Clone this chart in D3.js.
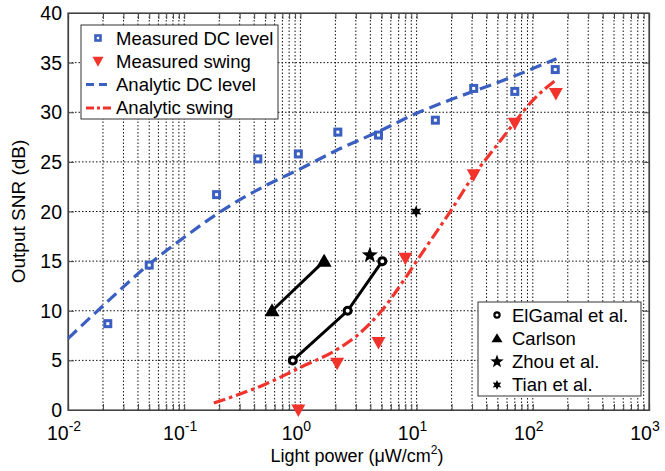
<!DOCTYPE html>
<html>
<head>
<meta charset="utf-8">
<script src="https://cdn.jsdelivr.net/npm/d3@7"></script>
<style>
  body { margin: 0; background: #fff; }
  svg { font-family: "Liberation Sans", Arial, sans-serif; }
</style>
</head>
<body>
<div id="chart"></div>
<script>
// measured data
var dcX = [0.022, 0.05, 0.19, 0.43, 0.96, 2.1, 4.7, 14.5, 31, 70, 156];
var dcY = [8.7, 14.6, 21.7, 25.3, 25.8, 28.0, 27.7, 29.2, 32.4, 32.1, 34.3];
var swX = [0.96, 2.07, 4.7, 8.0, 31, 70, 158];
var swY = [0, 4.7, 6.8, 15.3, 23.7, 28.9, 31.9];

// analytic curves
var adcX = [0.01, 0.02, 0.05, 0.1, 0.2, 0.5, 1, 2, 5, 10, 20, 50, 100, 160];
var adcY = [7.2, 10.5, 14.7, 17.4, 19.9, 22.6, 24.3, 26.1, 28.2, 29.9, 31.3, 33.0, 34.4, 35.4];
var aswX = [0.18, 0.3, 0.5, 1, 2, 3, 5, 8, 10, 20, 30, 50, 70, 100, 160];
var aswY = [0.7, 1.6, 2.6, 4.3, 6.0, 7.4, 10.0, 13.3, 15.0, 20.2, 23.4, 26.8, 29.0, 31.2, 33.3];

// prior work
var elgamalX = [0.86, 2.55, 5.07];
var elgamalY = [5, 10, 15];
var carlsonX = [0.57, 1.6];
var carlsonY = [10, 15];
var zhouX = [3.96];
var zhouY = [15.6];
var tianX = [9.9];
var tianY = [20];

var yTicks = [0, 5, 10, 15, 20, 25, 30, 35, 40];
var xMajor = [-2, -1, 0, 1, 2, 3];

var W = 665, H = 471;
var pL = 68, pR = 649, pT = 13, pB = 410;
var blue = "#3b5fc0", red = "#f2332b";

var svg = d3.select("#chart").append("svg").attr("width", W).attr("height", H);

var x = d3.scaleLog().domain([1e-2, 1e3]).range([pL, pR]);
var y = d3.scaleLinear().domain([0, 40]).range([pB, pT]);

var zip = function (xs, ys) { return xs.map(function (v, i) { return [v, ys[i]]; }); };

// grid
var xGrid = x.ticks().filter(function (t) { return t > 1e-2 && t < 1e3; });
svg.append("g").selectAll("line").data(xGrid).enter().append("line")
    .attr("x1", function (d) { return x(d); }).attr("x2", function (d) { return x(d); })
    .attr("y1", pT).attr("y2", pB)
    .attr("stroke", "#111").attr("stroke-width", 1).attr("stroke-dasharray", "1.5,2");
svg.append("g").selectAll("line").data(yTicks.slice(1, -1)).enter().append("line")
    .attr("x1", pL).attr("x2", pR)
    .attr("y1", function (d) { return y(d); }).attr("y2", function (d) { return y(d); })
    .attr("stroke", "#111").attr("stroke-width", 1).attr("stroke-dasharray", "1.5,2");

// axes (ticks inside, all four sides)
var xb = d3.axisBottom(x).tickValues(x.ticks()).tickSize(-6).tickFormat("");
var xt = d3.axisTop(x).tickValues(x.ticks()).tickSize(-6).tickFormat("");
var yl = d3.axisLeft(y).tickValues(yTicks).tickSize(-6).tickFormat("");
var yr = d3.axisRight(y).tickValues(yTicks).tickSize(-6).tickFormat("");
svg.append("g").attr("transform", "translate(0," + pB + ")").call(xb);
svg.append("g").attr("transform", "translate(0," + pT + ")").call(xt);
svg.append("g").attr("transform", "translate(" + pL + ",0)").call(yl);
svg.append("g").attr("transform", "translate(" + pR + ",0)").call(yr);
svg.selectAll(".domain").attr("stroke", "#444").attr("stroke-width", 1.2);
svg.selectAll(".tick line").attr("stroke", "#444");
svg.append("rect").attr("x", pL).attr("y", pT).attr("width", pR - pL).attr("height", pB - pT)
    .attr("fill", "none").attr("stroke", "#444").attr("stroke-width", 1.2);

// tick labels
svg.append("g").selectAll("text").data(yTicks).enter().append("text")
    .attr("x", pL - 6).attr("y", function (d) { return y(d) + 7; })
    .attr("text-anchor", "end").attr("font-size", 19.5).text(function (d) { return d; });
var xl = svg.append("g").selectAll("text").data(xMajor).enter().append("text")
    .attr("x", function (d) { return x(Math.pow(10, d)) - 4; }).attr("y", 440)
    .attr("text-anchor", "middle").attr("font-size", 19.5);
xl.append("tspan").text("10");
xl.append("tspan").attr("dy", -9).attr("font-size", 14).text(function (d) { return d; });

svg.append("text").attr("x", 357).attr("y", 462).attr("text-anchor", "middle").attr("font-size", 18)
    .html("Light power (μW/cm<tspan dy='-8' font-size='12'>2</tspan><tspan dy='8'>)</tspan>");
svg.append("text").attr("transform", "translate(25," + ((pT + pB) / 2) + ") rotate(-90)")
    .attr("text-anchor", "middle").attr("font-size", 19).text("Output SNR (dB)");

var line = d3.line().x(function (d) { return x(d[0]); }).y(function (d) { return y(d[1]); })
    .curve(d3.curveMonotoneX);
var plain = d3.line().x(function (d) { return x(d[0]); }).y(function (d) { return y(d[1]); });

// analytic curves
svg.append("path").datum(zip(adcX, adcY)).attr("d", line).attr("fill", "none")
    .attr("stroke", blue).attr("stroke-width", 3.2).attr("stroke-dasharray", "12,6");
svg.append("path").datum(zip(aswX, aswY)).attr("d", line).attr("fill", "none")
    .attr("stroke", red).attr("stroke-width", 3.2).attr("stroke-dasharray", "12,4,3.5,4");

// black lines
svg.append("path").datum(zip(elgamalX, elgamalY)).attr("d", plain).attr("fill", "none")
    .attr("stroke", "#000").attr("stroke-width", 3);
svg.append("path").datum(zip(carlsonX, carlsonY)).attr("d", plain).attr("fill", "none")
    .attr("stroke", "#000").attr("stroke-width", 3);

// markers
var starPath = function (n, ro, ri) {
    var p = [];
    for (var i = 0; i < 2 * n; i++) {
        var r = i % 2 ? ri : ro, a = Math.PI * i / n - Math.PI / 2;
        p.push([r * Math.cos(a), r * Math.sin(a)]);
    }
    return "M" + p.join("L") + "Z";
};
var squareM = function (g) {
    g.append("rect").attr("x", -3).attr("y", -3).attr("width", 6).attr("height", 6)
        .attr("fill", "#fff").attr("stroke", blue).attr("stroke-width", 3);
};
var triDown = function (g) {
    g.append("path").attr("d", "M-7,-5.5L7,-5.5L0,7Z").attr("fill", red);
};
var circleM = function (g) {
    g.append("circle").attr("r", 3.5).attr("fill", "#fff").attr("stroke", "#000").attr("stroke-width", 3);
};
var triUp = function (g) {
    g.append("path").attr("d", "M0,-7.5L7.5,5.5L-7.5,5.5Z").attr("fill", "#000");
};
var star5 = function (g) {
    g.append("path").attr("d", starPath(5, 8.5, 3.5)).attr("fill", "#000");
};
var star6 = function (g) {
    g.append("path").attr("d", starPath(6, 6, 3)).attr("fill", "#000");
};
var drawPts = function (xs, ys, marker) {
    zip(xs, ys).forEach(function (d) {
        var g = svg.append("g").attr("transform", "translate(" + x(d[0]) + "," + y(d[1]) + ")");
        marker(g);
    });
};
drawPts(dcX, dcY, squareM);
drawPts(swX, swY, triDown);
drawPts(elgamalX, elgamalY, circleM);
drawPts(carlsonX, carlsonY, triUp);
drawPts(zhouX, zhouY, star5);
drawPts(tianX, tianY, star6);

// legend 1
var lg1 = svg.append("g");
lg1.append("rect").attr("x", 81).attr("y", 25).attr("width", 197).attr("height", 94)
    .attr("fill", "#fff").attr("stroke", "#333").attr("stroke-width", 1);
var items1 = [
    { label: "Measured DC level", kind: "sq" },
    { label: "Measured swing", kind: "tri" },
    { label: "Analytic DC level", kind: "dash" },
    { label: "Analytic swing", kind: "dashdot" }
];
items1.forEach(function (it, i) {
    var cy = 38 + i * 23.3;
    var g = lg1.append("g").attr("transform", "translate(98," + cy + ")");
    if (it.kind === "sq") {
        g.append("rect").attr("x", -2.5).attr("y", -2.5).attr("width", 5).attr("height", 5)
            .attr("fill", "#fff").attr("stroke", blue).attr("stroke-width", 2.6);
    } else if (it.kind === "tri") {
        g.append("path").attr("d", "M-5.5,-4.5L5.5,-4.5L0,5.5Z").attr("fill", red);
    } else {
        g.append("line").attr("x1", -12).attr("x2", 13).attr("y1", 0).attr("y2", 0)
            .attr("stroke", it.kind === "dash" ? blue : red).attr("stroke-width", 3)
            .attr("stroke-dasharray", it.kind === "dash" ? "8,5" : "8,3,3,3");
    }
    lg1.append("text").attr("x", 116).attr("y", cy + 6.5).attr("font-size", 18.5).text(it.label);
});

// legend 2
var lg2 = svg.append("g");
lg2.append("rect").attr("x", 478).attr("y", 302).attr("width", 163).attr("height", 94)
    .attr("fill", "#fff").attr("stroke", "#333").attr("stroke-width", 1);
var items2 = [
    { label: "ElGamal et al.", m: function (g) { g.append("circle").attr("r", 2.6).attr("fill", "#fff").attr("stroke", "#000").attr("stroke-width", 2.2); } },
    { label: "Carlson", m: function (g) { g.append("path").attr("d", "M0,-5L5.5,4L-5.5,4Z").attr("fill", "#000"); } },
    { label: "Zhou et al.", m: function (g) { g.append("path").attr("d", starPath(5, 7, 2.9)).attr("fill", "#000"); } },
    { label: "Tian et al.", m: function (g) { g.append("path").attr("d", starPath(6, 5, 2.5)).attr("fill", "#000"); } }
];
items2.forEach(function (it, i) {
    var cy = 315 + i * 23.3;
    var g = lg2.append("g").attr("transform", "translate(497," + cy + ")");
    it.m(g);
    lg2.append("text").attr("x", 512).attr("y", cy + 6.5).attr("font-size", 18.5).text(it.label);
});
</script>
</body>
</html>
